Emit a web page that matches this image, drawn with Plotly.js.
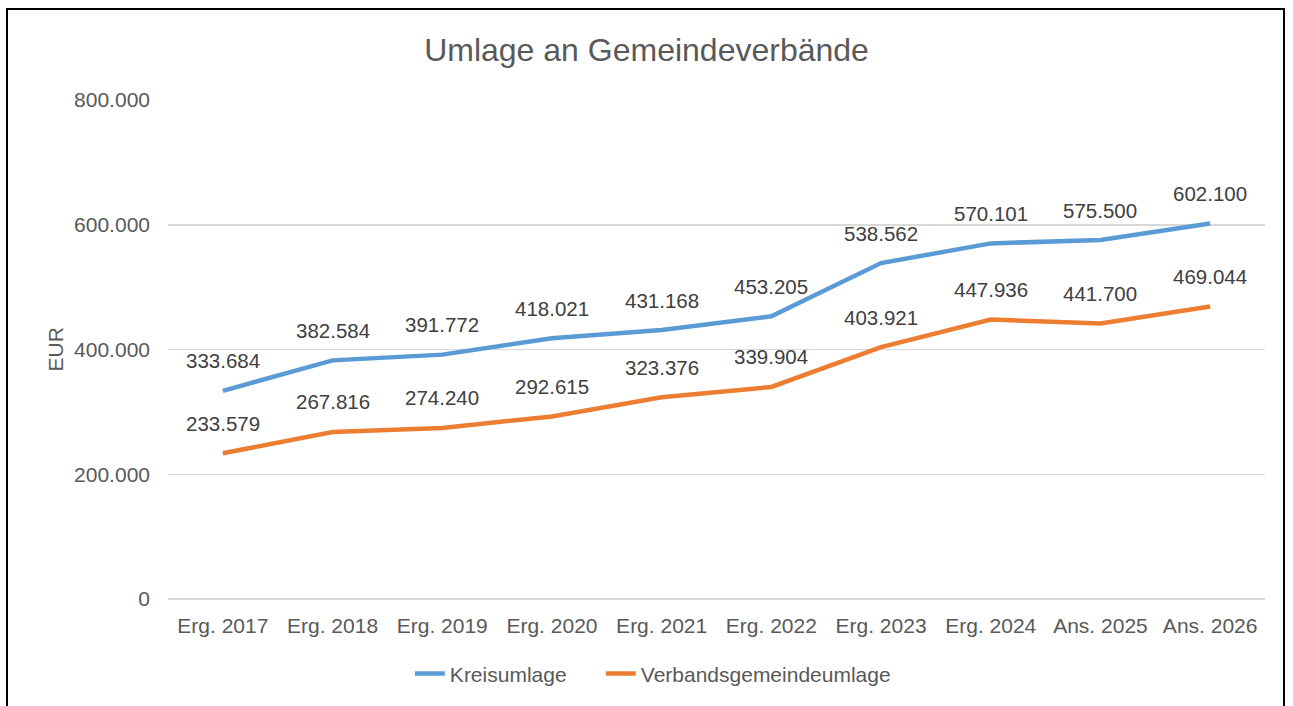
<!DOCTYPE html>
<html>
<head>
<meta charset="utf-8">
<script src="https://cdn.plot.ly/plotly-3.0.1.min.js"></script>
<style>
html,body{margin:0;padding:0;background:#fff;}
#frame{position:absolute;left:6px;top:8px;width:1279px;height:720px;border:2px solid #000;box-sizing:border-box;pointer-events:none;z-index:10;}
#chart{position:absolute;left:0;top:0;width:1293px;height:706px;}
</style>
</head>
<body>
<div id="chart"></div>
<div id="frame"></div>
<script>
const categories = ["Erg. 2017","Erg. 2018","Erg. 2019","Erg. 2020","Erg. 2021","Erg. 2022","Erg. 2023","Erg. 2024","Ans. 2025","Ans. 2026"];
const kreisumlage = [333684,382584,391772,418021,431168,453205,538562,570101,575500,602100];
const verbandsumlage = [233579,267816,274240,292615,323376,339904,403921,447936,441700,469044];
const yTickVals = [0,200000,400000,600000,800000];
const yTickText = ["0","200.000","400.000","600.000","800.000"];

function fmt(v){return v.toString().replace(/\B(?=(\d{3})+(?!\d))/g,".");}

const font = "Liberation Sans, Arial, sans-serif";
const traces = [
  {x:categories,y:kreisumlage,name:"Kreisumlage\u00A0\u00A0\u00A0\u00A0\u00A0",mode:"lines",line:{color:"#5B9BD5",width:4.5}},
  {x:categories,y:verbandsumlage,name:"Verbandsgemeindeumlage",mode:"lines",line:{color:"#ED7D31",width:4.5}}
];
const annotations = [];
[kreisumlage, verbandsumlage].forEach(series=>{
  series.forEach((v,i)=>{
    annotations.push({x:categories[i],y:v,text:fmt(v),showarrow:false,yshift:30,
      font:{family:font,size:20.5,color:"#404040"}});
  });
});
annotations.push({xref:"paper",yref:"paper",x:0,y:0.5,xanchor:"center",yanchor:"middle",xshift:-113,text:"EUR",textangle:-90,showarrow:false,
    font:{family:font,size:21,color:"#595959"}});
const layout = {
  width:1293,height:706,
  paper_bgcolor:"#fff",plot_bgcolor:"#fff",
  margin:{l:168,r:28,t:100,b:104},
  title:{text:"Umlage an Gemeindeverbände",x:0.5,xanchor:"center",y:0.929,yanchor:"middle",
    font:{family:font,size:32,color:"#595959"}},
  xaxis:{type:"category",range:[-0.5,9.5],showgrid:false,zeroline:false,showline:false,ticks:"",
    ticklabelstandoff:12,
    tickfont:{family:font,size:21,color:"#595959"}},
  yaxis:{range:[0,800000],tickvals:yTickVals,ticktext:yTickText,showgrid:true,gridcolor:"#D9D9D9",gridwidth:1.5,
    zeroline:true,zerolinecolor:"#D9D9D9",zerolinewidth:2,showline:false,ticks:"",ticklen:0,
    ticklabelstandoff:17,
    tickfont:{family:font,size:21,color:"#595959"}},
  showlegend:true,
  legend:{orientation:"h",x:0.442,xanchor:"center",y:-0.15,yanchor:"middle",
    font:{family:font,size:21,color:"#595959"},tracegroupgap:0},
  annotations:annotations
};
Plotly.newPlot("chart",traces,layout,{displayModeBar:false,staticPlot:true});
</script>
</body>
</html>
